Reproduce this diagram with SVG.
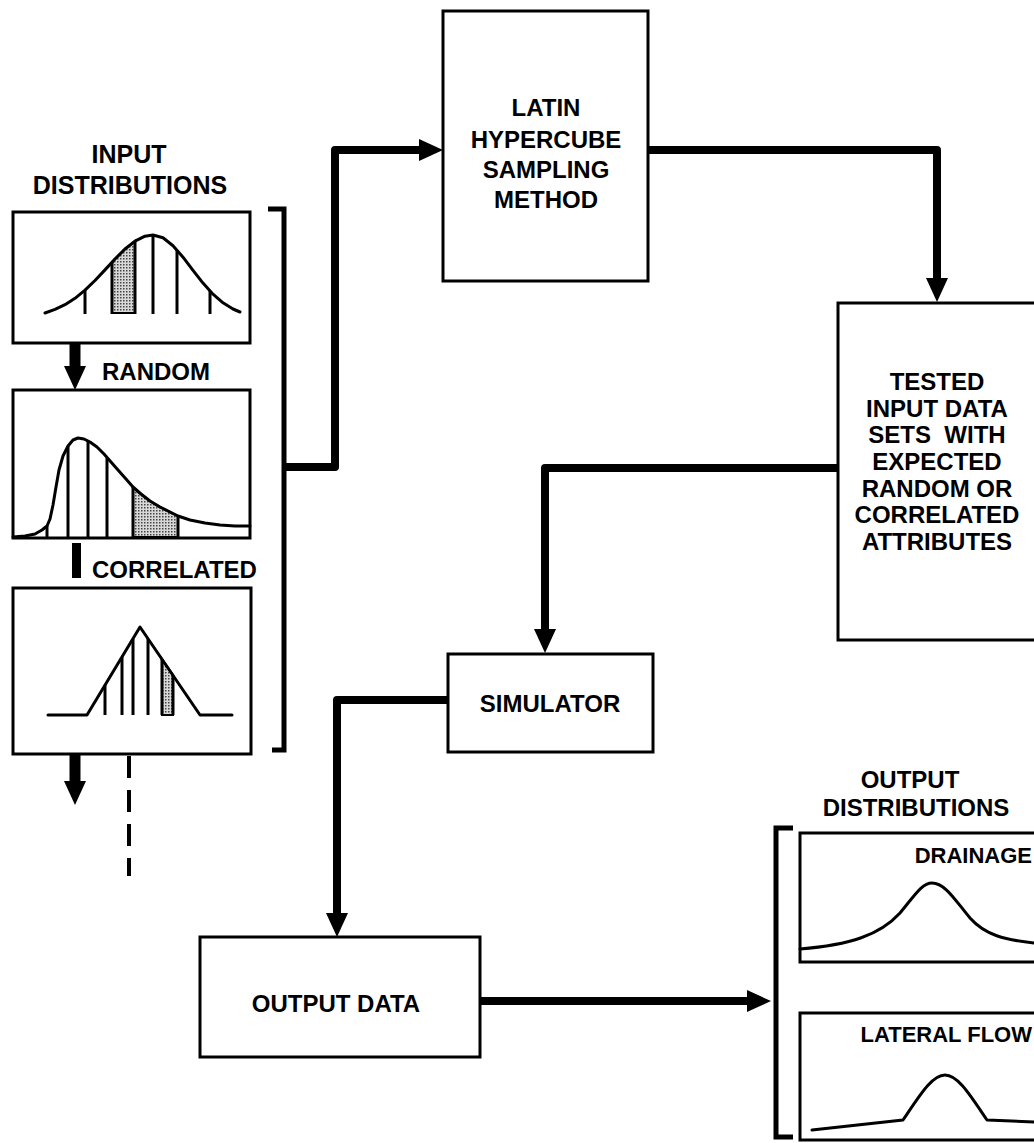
<svg xmlns="http://www.w3.org/2000/svg" width="1034" height="1143" viewBox="0 0 1034 1143">
<style>
  .box{fill:#fff;stroke:#000;stroke-width:3}
  .t{font-family:"Liberation Sans",Arial,sans-serif;font-weight:bold;font-size:24px;fill:#000}
  .tc{text-anchor:middle}
  .te{text-anchor:end}
  .curve{fill:none;stroke:#000;stroke-width:3;stroke-linejoin:round;stroke-linecap:round}
  .vl{stroke:#000;stroke-width:3}
  .conn{fill:none;stroke:#000;stroke-width:8;stroke-linejoin:round}
  .brk{fill:none;stroke:#000;stroke-width:5}
  .shade{fill:url(#stip);stroke:#000;stroke-width:2}
</style>
<defs>
  <pattern id="stip" width="3" height="3" patternUnits="userSpaceOnUse">
    <rect width="3" height="3" fill="#d8d8d8"/>
    <rect width="1.5" height="1.5" fill="#444"/>
  </pattern>
  <marker id="ah" markerUnits="userSpaceOnUse" markerWidth="24" markerHeight="22" refX="8" refY="11" orient="auto" viewBox="0 0 24 22">
    <path d="M0,0 L24,11 L0,22 Z" fill="#000"/>
  </marker>
</defs>

<!-- Input distributions -->
<g id="input-label">
  <text class="t tc" x="129" y="163" style="font-size:25px">INPUT</text>
  <text class="t tc" x="130" y="194" style="font-size:25px">DISTRIBUTIONS</text>
</g>

<g id="input-dist-1">
  <rect class="box" x="13" y="212" width="237" height="131"/>
  <polygon class="shade" points="112,313 112,262 115,259 125,249 135,241 135,313"/>
  <polyline class="curve" points="45,313 55,309.4 65,304.7 75,298.3 85,290.2 95,280.5 105,269.9 115,259 125,249 135,241.1 145,236.2 153,235 163,237.8 173,245.7 183,257.2 193,270.3 203,283.1 213,294.2 223,302.8 233,309 240,312"/>
  <line class="vl" x1="85" y1="290" x2="85" y2="314"/>
  <line class="vl" x1="112" y1="262" x2="112" y2="314"/>
  <line class="vl" x1="135" y1="241" x2="135" y2="314"/>
  <line class="vl" x1="153" y1="235" x2="153" y2="314"/>
  <line class="vl" x1="177" y1="250" x2="177" y2="314"/>
  <line class="vl" x1="210" y1="291" x2="210" y2="314"/>
</g>

<g id="random-label">
  <text class="t" x="102" y="380">RANDOM</text>
</g>

<g id="input-dist-2">
  <rect class="box" x="13" y="390" width="237" height="148"/>
  <polygon class="shade" points="133,537 133,487 141,494 150,501 160,507 170,512 178,516 178,537"/>
  <polyline class="curve" points="13,537 25,536 35,534 42,530 47,526 50,519 53,505 56,487 59,470 63,456 68,446 73,440 78,438 84,439 90,442 97,447 104,454 111,462 118,470 126,479 133,487 141,494 150,501 160,507 170,512 178,516 190,520 205,523 220,525 235,526 250,526"/>
  <line class="vl" x1="47" y1="526" x2="47" y2="537"/>
  <line class="vl" x1="68" y1="446" x2="68" y2="537"/>
  <line class="vl" x1="88" y1="441" x2="88" y2="537"/>
  <line class="vl" x1="107" y1="458" x2="107" y2="537"/>
  <line class="vl" x1="133" y1="487" x2="133" y2="537"/>
  <line class="vl" x1="178" y1="516" x2="178" y2="537"/>
</g>

<g id="correlated-label">
  <rect x="72" y="543" width="9" height="35" fill="#000"/>
  <text class="t" x="92" y="578">CORRELATED</text>
</g>

<g id="input-dist-3">
  <rect class="box" x="13" y="588" width="238" height="166"/>
  <polygon class="shade" points="162,715 162,659 173,675 173,715"/>
  <polyline class="curve" points="48,715 87,715 140,627 200,715 232,715"/>
  <line class="vl" x1="105" y1="685" x2="105" y2="715"/>
  <line class="vl" x1="122" y1="657" x2="122" y2="715"/>
  <line class="vl" x1="133" y1="639" x2="133" y2="715"/>
  <line class="vl" x1="148" y1="639" x2="148" y2="715"/>
  <line class="vl" x1="162" y1="659" x2="162" y2="715"/>
  <line class="vl" x1="173" y1="675" x2="173" y2="715"/>
</g>

<g id="lhs">
  <rect class="box" x="443" y="11" width="205" height="270"/>
  <text class="t tc" x="546" y="116">LATIN</text>
  <text class="t tc" x="546" y="148">HYPERCUBE</text>
  <text class="t tc" x="546" y="178">SAMPLING</text>
  <text class="t tc" x="546" y="208">METHOD</text>
</g>

<g id="tested">
  <rect class="box" x="838" y="303" width="200" height="337"/>
  <text class="t tc" x="937" y="390">TESTED</text>
  <text class="t tc" x="937" y="417">INPUT DATA</text>
  <text class="t tc" x="937" y="443" xml:space="preserve">SETS  WITH</text>
  <text class="t tc" x="937" y="470">EXPECTED</text>
  <text class="t tc" x="937" y="497">RANDOM OR</text>
  <text class="t tc" x="937" y="523">CORRELATED</text>
  <text class="t tc" x="937" y="550">ATTRIBUTES</text>
</g>

<g id="simulator">
  <rect class="box" x="448" y="654" width="205" height="98"/>
  <text class="t tc" x="550" y="712">SIMULATOR</text>
</g>

<g id="output-data">
  <rect class="box" x="200" y="937" width="280" height="120"/>
  <text class="t tc" x="336" y="1012">OUTPUT DATA</text>
</g>

<g id="output-label">
  <text class="t tc" x="910" y="788">OUTPUT</text>
  <text class="t tc" x="916" y="816">DISTRIBUTIONS</text>
</g>

<g id="drainage">
  <rect class="box" x="800" y="833" width="240" height="129"/>
  <text class="t te" x="1032" y="863" style="font-size:22px">DRAINAGE</text>
  <path class="curve" d="M800,949 C850,945 880,935 900,913 C915,895 922,883 932,883 C945,883 955,900 970,918 C985,935 1005,940 1034,943"/>
</g>

<g id="lateral-flow">
  <rect class="box" x="800" y="1013" width="240" height="127"/>
  <text class="t te" x="1032" y="1042" style="font-size:22px">LATERAL FLOW</text>
  <path class="curve" d="M812,1130 L903,1120 C920,1095 932,1075 945,1075 C958,1075 970,1095 987,1120 L1034,1122"/>
</g>

<g id="connectors">
  <path class="brk" d="M268,209 H284 V750 H272"/>
  <path class="brk" d="M793,828 H776 V1137 H793"/>
  <path class="conn" d="M284,467 H335 V150 H427" marker-end="url(#ah)"/>
  <path class="conn" d="M648,150 H937 V286" marker-end="url(#ah)"/>
  <path class="conn" d="M838,468 H545 V637" marker-end="url(#ah)"/>
  <path class="conn" d="M448,700 H337 V921" marker-end="url(#ah)"/>
  <path class="conn" d="M480,1001 H755" marker-end="url(#ah)"/>
  <path class="conn" style="stroke-width:11" d="M75,343 V374" marker-end="url(#ah)"/>
  <path class="conn" style="stroke-width:11" d="M75,755 V789" marker-end="url(#ah)"/>
  <line x1="129" y1="756" x2="129" y2="876" stroke="#000" stroke-width="4" stroke-dasharray="22,12"/>
</g>
</svg>
